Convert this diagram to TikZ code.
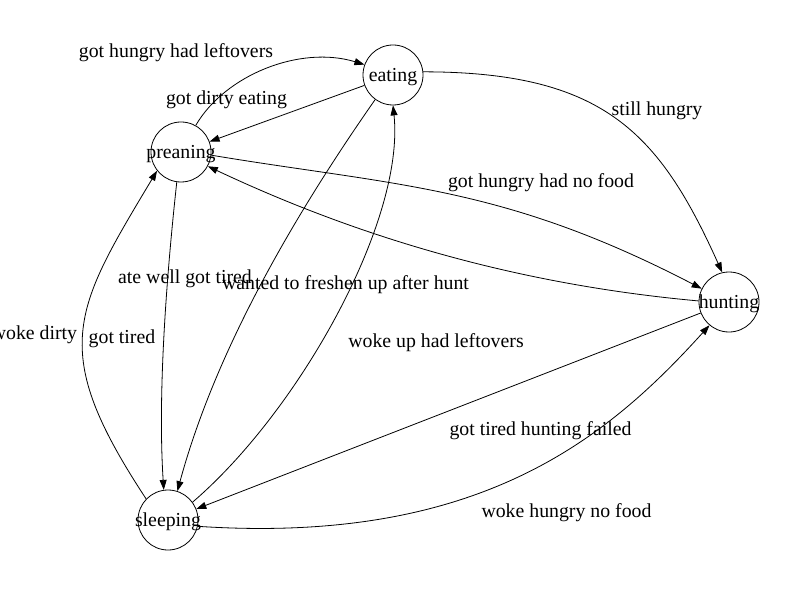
\documentclass[tikz,border=0pt]{standalone}
\usepackage{fontspec}
\setmainfont{Liberation Serif}
\usetikzlibrary{arrows.meta}
\tikzset{
  state/.style={draw, circle, minimum size=60bp, inner sep=0pt, line width=0.8bp, font=\fontsize{19.8bp}{24bp}\selectfont},
  lbl/.style={anchor=base, inner sep=0pt, yshift=-1.5bp, font=\fontsize{19.8bp}{24bp}\selectfont},
  edge/.style={line width=0.8bp, -{Triangle[length=10bp,width=7bp]}}
}
\newcommand{\zw}[1]{\makebox[0pt]{\raisebox{-6.5bp}[0pt][0pt]{#1}}}
\begin{document}
\begin{tikzpicture}[x=1bp,y=-1bp]
\useasboundingbox (0,0) rectangle (800,600);
% states
\node[state] (eating) at (393,75) {\zw{eating}};
\node[state] (preaning) at (181,152) {\zw{preaning}};
\node[state] (hunting) at (729,302) {\zw{hunting}};
\node[state] (sleeping) at (168,520) {\zw{sleeping}};
% edges
\draw[edge] (preaning.61) .. controls (225,75) and (300,45) .. (eating.160);
\draw[edge] (eating) -- (preaning);
\draw[edge] (eating.6) .. controls (603,72) and (659,132) .. (hunting.103);
\draw[edge] (preaning.-6) .. controls (396,186) and (502,185) .. (hunting.154);
\draw[edge] (hunting.178) .. controls (500,283) and (341,229) .. (preaning.-28);
\draw[edge] (eating.234) .. controls (284,230) and (213,360) .. (sleeping.72);
\draw[edge] (preaning.262) .. controls (165,290) and (158,400) .. (sleeping.98);
\draw[edge] (sleeping.36) .. controls (300,410) and (405,220) .. (eating.270);
\draw[edge] (hunting) -- (sleeping);
\draw[edge] (sleeping.-12) .. controls (480,545) and (607.5,438) .. (hunting.230);
\draw[edge] (sleeping.136) .. controls (48,350) and (73,311) .. (preaning.218);
% labels
\node[lbl] (l1) at (176,56) {got hungry had leftovers};
\node[lbl] (l2) at (226.5,102.7) {got dirty eating};
\node[lbl] (l3) at (657,114) {still hungry};
\node[lbl] (l4) at (541,186) {got hungry had no food};
\node[lbl] (l5) at (345.5,288) {wanted to freshen up after hunt};
\node[lbl] (l6) at (185,282) {ate well got tired};
\node[lbl] (l7) at (34.5,338) {woke dirty};
\node[lbl] (l8) at (122,341.7) {got tired};
\node[lbl] (l9) at (436,346) {woke up had leftovers};
\node[lbl] (l10) at (540.5,434) {got tired hunting failed};
\node[lbl] (l11) at (566.5,516) {woke hungry no food};
\end{tikzpicture}
\end{document}
